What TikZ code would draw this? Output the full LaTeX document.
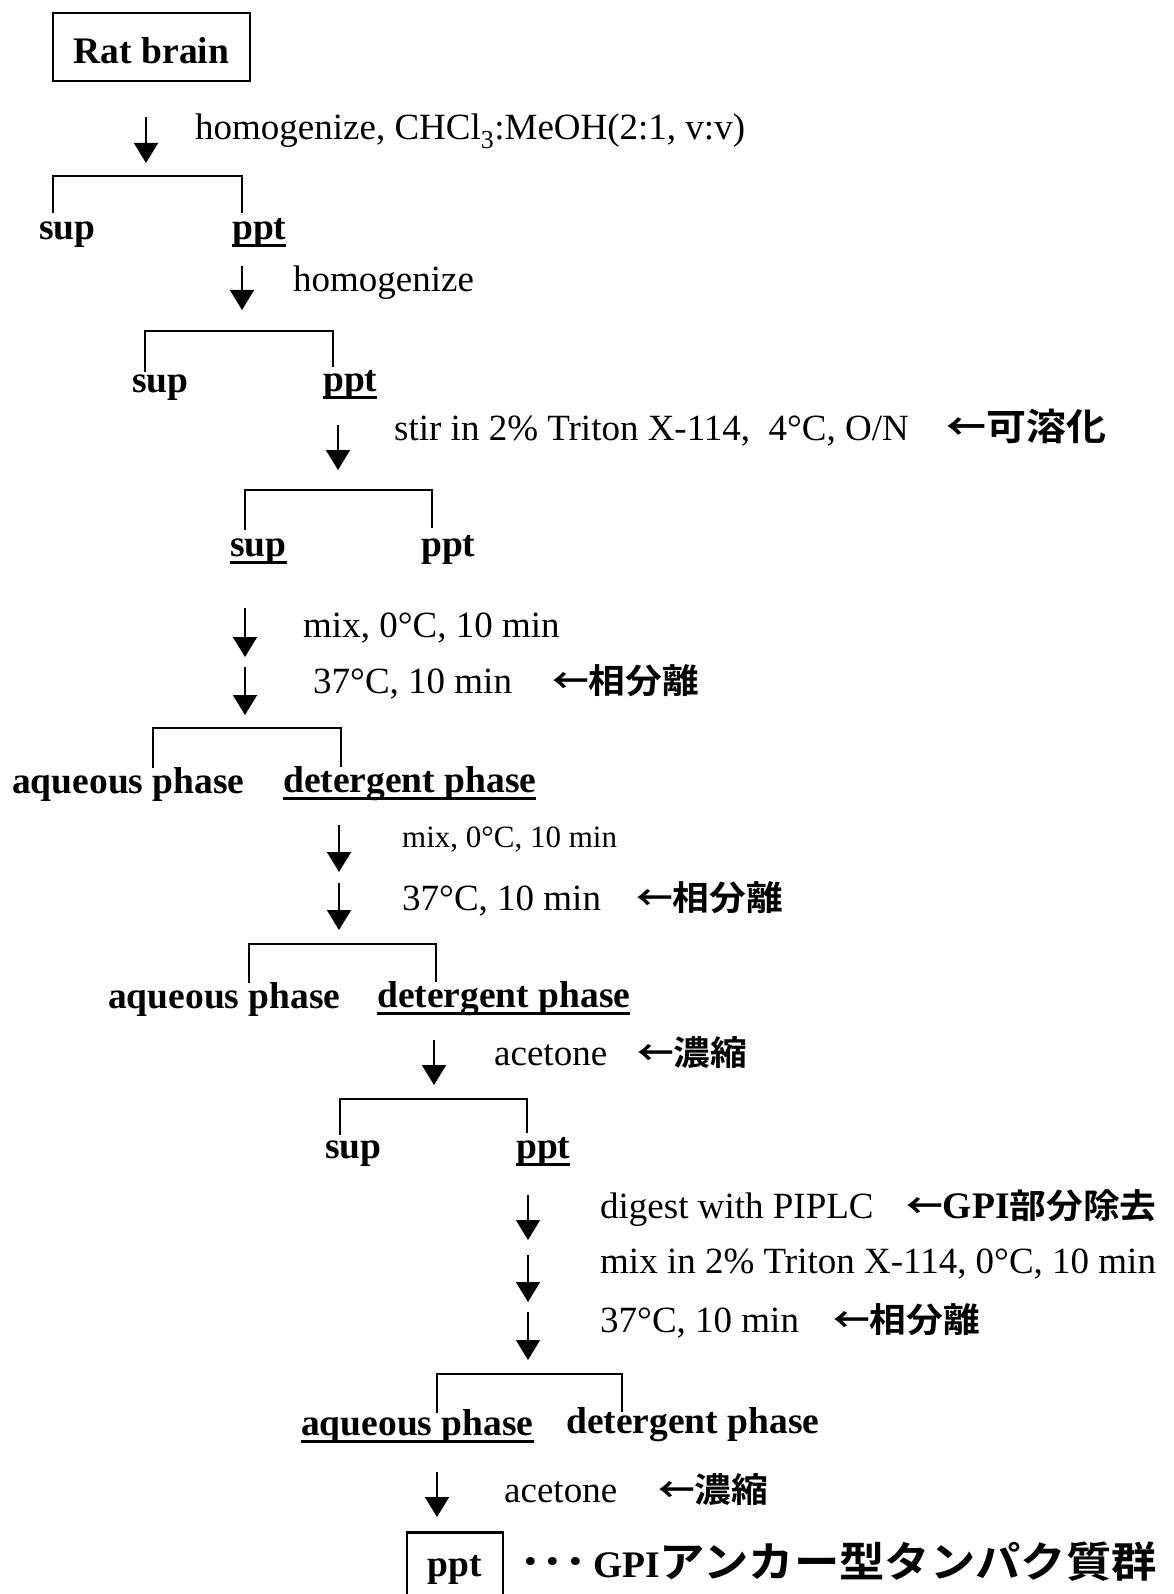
\documentclass[tikz,border=0pt]{standalone}
\usepackage{fontspec}
\setmainfont{Liberation Serif}
\newfontfamily\cjkf{Noto Sans CJK JP Bold}[FakeStretch=1.08]
\usetikzlibrary{arrows.meta}
\newcommand\myul[1]{\setbox0=\hbox{#1}\rlap{\rule[-0.2em]{\wd0}{0.08em}}\box0}
\newcommand\gpi{{\rmfamily\bfseries\fontsize{37.5}{40}\selectfont GPI}}
\tikzset{
  lbl/.style={anchor=base west, inner sep=0pt, font=\fontsize{37}{40}\selectfont},
  slbl/.style={anchor=base west, inner sep=0pt, font=\fontsize{31}{34}\selectfont},
  blbl/.style={anchor=base west, inner sep=0pt, font=\fontsize{37.5}{40}\selectfont\bfseries},
  jp/.style={anchor=base west, inner sep=0pt, font=\cjkf\fontsize{34}{36}\selectfont},
  arr/.style={-{Triangle[width=24pt,length=20pt]}, line width=1.7pt},
  br/.style={line width=2.5pt},
}
\begin{document}
\begin{tikzpicture}[x=1pt,y=-1pt]
\fill[white] (0,0) rectangle (1173,1594);
\clip (0,0) rectangle (1173,1594);

% Rat brain
\node[draw, line width=2.5pt, minimum width=197pt, minimum height=68pt, inner sep=0pt,
      text height=34pt, text depth=0pt, font=\fontsize{37.5}{40}\selectfont\bfseries] (rat) at (151.5,47) {Rat brain};

% step 1
\coordinate (a1s) at (146,117); \coordinate (a1e) at (146,163);
\draw[arr] (a1s) -- (a1e);
\node[lbl] (t1) at (195,140) {homogenize, CHCl\textsubscript{3}:MeOH(2:1, v:v)};
\coordinate (b1l) at (53,213); \coordinate (b1t) at (147,176); \coordinate (b1r) at (242,213);
\draw[br] (b1l) |- (b1t) -| (b1r);
\node[blbl] (s1) at (39,240) {sup};
\node[blbl] (p1) at (232,240) {\myul{ppt}};

% step 2
\coordinate (a2s) at (242,266); \coordinate (a2e) at (242,310);
\draw[arr] (a2s) -- (a2e);
\node[lbl] (t2) at (293,291) {homogenize};
\coordinate (b2l) at (145,372); \coordinate (b2t) at (240,331); \coordinate (b2r) at (333,367);
\draw[br] (b2l) |- (b2t) -| (b2r);
\node[blbl] (s2) at (132,392) {sup};
\node[blbl] (p2) at (323,391) {\myul{ppt}};

% step 3
\coordinate (a3s) at (338,425); \coordinate (a3e) at (338,470);
\draw[arr] (a3s) -- (a3e);
\node[lbl] (t3) at (394,440) {stir in 2\% Triton X-114,\ \ 4°C, O/N};
\node[jp, font=\cjkf\fontsize{37}{40}\selectfont] (j3) at (946,440) {←可溶化};
\coordinate (b3l) at (245,530); \coordinate (b3t) at (338,490); \coordinate (b3r) at (432,528);
\draw[br] (b3l) |- (b3t) -| (b3r);
\node[blbl] (s3) at (230,556) {\myul{sup}};
\node[blbl] (p3) at (421,556) {ppt};

% step 4
\coordinate (a4s) at (245,608); \coordinate (a4e) at (245,657);
\draw[arr] (a4s) -- (a4e);
\node[lbl] (t4) at (303,637) {mix, 0°C, 10 min};
\coordinate (a5s) at (245,667); \coordinate (a5e) at (245,715);
\draw[arr] (a5s) -- (a5e);
\node[lbl] (t5) at (313,693) {37°C, 10 min};
\node[jp] (j5) at (552,693) {←相分離};
\coordinate (b4l) at (153,768); \coordinate (b4t) at (245,728); \coordinate (b4r) at (341,767);
\draw[br] (b4l) |- (b4t) -| (b4r);
\node[blbl] (q4) at (12,793) {aqueous phase};
\node[blbl] (d4) at (283,792) {\myul{detergent phase}};

% step 5
\coordinate (a6s) at (339,825); \coordinate (a6e) at (339,872);
\draw[arr] (a6s) -- (a6e);
\node[slbl] (t6) at (402,847) {mix, 0°C, 10 min};
\coordinate (a7s) at (339,883); \coordinate (a7e) at (339,930);
\draw[arr] (a7s) -- (a7e);
\node[lbl] (t7) at (402,910) {37°C, 10 min};
\node[jp] (j7) at (636,910) {←相分離};
\coordinate (b5l) at (249,983); \coordinate (b5t) at (340,944); \coordinate (b5r) at (436,982);
\draw[br] (b5l) |- (b5t) -| (b5r);
\node[blbl] (q5) at (108,1008) {aqueous phase};
\node[blbl] (d5) at (377,1007) {\myul{detergent phase}};

% step 6
\coordinate (a8s) at (434,1040); \coordinate (a8e) at (434,1085);
\draw[arr] (a8s) -- (a8e);
\node[lbl] (t8) at (494,1065) {acetone};
\node[jp] (j8) at (637,1065) {←濃縮};
\coordinate (b6l) at (340,1135); \coordinate (b6t) at (434,1099); \coordinate (b6r) at (527,1133);
\draw[br] (b6l) |- (b6t) -| (b6r);
\node[blbl] (s6) at (325,1158) {sup};
\node[blbl] (p6) at (516,1158) {\myul{ppt}};

% step 7
\coordinate (a9s) at (528,1195); \coordinate (a9e) at (528,1240);
\draw[arr] (a9s) -- (a9e);
\node[lbl] (t9) at (600,1218) {digest with PIPLC};
\node[jp] (j9) at (906,1218) {←\gpi 部分除去};
\coordinate (a10s) at (528,1255); \coordinate (a10e) at (528,1302);
\draw[arr] (a10s) -- (a10e);
\node[lbl] (t10) at (600,1273) {mix in 2\% Triton X-114, 0°C, 10 min};
\coordinate (a11s) at (528,1312); \coordinate (a11e) at (528,1360);
\draw[arr] (a11s) -- (a11e);
\node[lbl] (t11) at (600,1332) {37°C, 10 min};
\node[jp] (j11) at (833,1332) {←相分離};
\coordinate (b7l) at (437,1413); \coordinate (b7t) at (528,1374); \coordinate (b7r) at (622,1412);
\draw[br] (b7l) |- (b7t) -| (b7r);
\node[blbl] (q7) at (301,1435) {\myul{aqueous phase}};
\node[blbl] (d7) at (566,1433) {detergent phase};

% step 8
\coordinate (a12s) at (437,1472); \coordinate (a12e) at (437,1517);
\draw[arr] (a12s) -- (a12e);
\node[lbl] (t12) at (504,1502) {acetone};
\node[jp] (j12) at (658,1502) {←濃縮};

% final
\node[draw, line width=2.5pt, anchor=north, minimum width=96pt, inner xsep=0pt, inner ysep=14pt,
      text height=30pt, text depth=70pt, font=\fontsize{37.5}{40}\selectfont\bfseries] (fin) at (455,1531) {ppt};
\node[jp, font=\cjkf\fontsize{42}{44}\selectfont] (dots) at (519,1577) {･･･};
\node[jp, font=\cjkf\fontsize{42}{44}\selectfont] (gpi) at (593,1577) {\gpi アンカー型タンパク質群};
\end{tikzpicture}
\end{document}
